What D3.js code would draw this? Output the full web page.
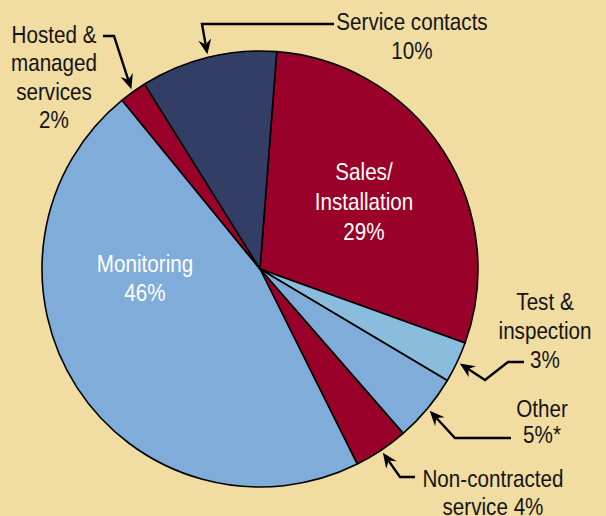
<!DOCTYPE html>
<html><head><meta charset="utf-8">
<script src="https://cdn.jsdelivr.net/npm/d3@7"></script>
<style>
html,body{margin:0;padding:0;background:#f1dca2;}
svg{display:block;}
text{font-family:"Liberation Sans",Arial,sans-serif;}
</style></head><body>
<svg id="chart" width="606" height="516"></svg>
<script>
// ---- data ----
const categories = ["Sales/Installation","Test & inspection","Other","Non-contracted service","Monitoring","Hosted & managed services","Service contacts"];
const values = [29, 3, 5, 4, 46, 2, 10];
const labelLines = [["Sales/","Installation"],["Test &","inspection"],["Other"],["Non-contracted"],["Monitoring"],["Hosted &","managed","services"],["Service contacts"]];
const valueSuffix = ["%","%","%*","%","%","%","%"];
const colors = ["#99002a","#89bcdd","#80acd9","#99002a","#80acd9","#99002a","#333e66"];

// ---- layout ----
const W = 606, H = 516;
const cx = 260, cy = 269, R = 218;
const startDeg = 4.4;
const fs = 24, sx = 0.86;
const svg = d3.select("#chart");
svg.append("rect").attr("width",W).attr("height",H).attr("fill","#f1dca2");

const data = categories.map((c,i)=>({name:c, value:values[i], i}));
const pie = d3.pie().value(d=>d.value).sort(null)
  .startAngle(startDeg*Math.PI/180).endAngle((startDeg+360)*Math.PI/180);
const arcs = pie(data);
const arc = d3.arc().innerRadius(0).outerRadius(R);
const g = svg.append("g").attr("transform",`translate(${cx},${cy})`);
g.selectAll("path.slice").data(arcs).join("path").attr("class","slice")
  .attr("d",arc).attr("fill",d=>colors[d.data.i])
  .attr("stroke","#000").attr("stroke-width",1.6).attr("stroke-linejoin","round");

function pt(a, r){ return [cx + r*Math.sin(a), cy - r*Math.cos(a)]; }
const mid = d => (d.startAngle+d.endAngle)/2;

const labelCfg = [
  {x:364, y:180, lh:30, color:"#fff"},
  {x:545, y:310, lh:29},
  {x:542, y:417, lh:26.5},
  {x:493, y:487, lh:28},
  {x:145, y:272, lh:29.5, color:"#fff"},
  {x:54, y:43, lh:28.5},
  {x:412, y:30, lh:29}
];
const leaderPts = [
  null,
  [[524,362],[508,362],[485,380]],
  [[511,438],[455,438]],
  [[415,477],[400,477]],
  null,
  [[103,36],[114,36]],
  [[334,24],[202,24]]
];

function arrowHead(from, tip){
  const a = Math.atan2(tip[1]-from[1], tip[0]-from[0]);
  const L = 15, Wd = 6.5, N = 10;
  const ca = Math.cos(a), sa = Math.sin(a);
  const p = (l,w)=>[tip[0] - l*ca - w*sa, tip[1] - l*sa + w*ca];
  return d3.line()([tip, p(L, Wd), p(N, 0), p(L, -Wd)]) + "Z";
}

arcs.forEach(d=>{
  const i = d.data.i, cfg = labelCfg[i];
  const lines = labelLines[i].slice();
  const pct = d.data.value + valueSuffix[i];
  if (i===3) lines.push("service " + pct); else lines.push(pct);
  const t = svg.append("text").attr("text-anchor","middle")
    .attr("transform",`translate(${cfg.x},${cfg.y}) scale(${sx},1)`)
    .attr("font-size",fs).attr("fill",cfg.color||"#141414");
  lines.forEach((l,k)=>t.append("tspan").attr("x",0).attr("y",k*cfg.lh).text(l));
  const lp = leaderPts[i];
  if (lp){
    const tip = pt(mid(d), R+3);
    const last = lp[lp.length-1];
    const a = Math.atan2(tip[1]-last[1], tip[0]-last[0]);
    const lineEnd = [tip[0]-10*Math.cos(a), tip[1]-10*Math.sin(a)];
    svg.append("path").attr("d", d3.line()([...lp, lineEnd]))
      .attr("fill","none").attr("stroke","#000").attr("stroke-width",2.4)
      .attr("stroke-linejoin","miter");
    svg.append("path").attr("d", arrowHead(last, tip)).attr("fill","#000");
  }
});
</script></body></html>
